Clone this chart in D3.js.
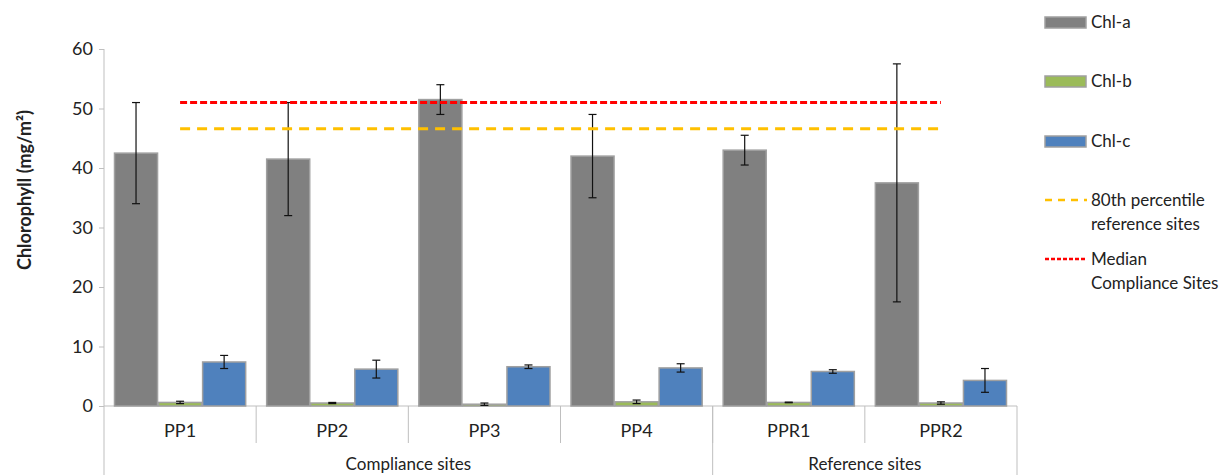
<!DOCTYPE html>
<html><head><meta charset="utf-8">
<script src="https://cdn.jsdelivr.net/npm/d3@7"></script>
<style>body{margin:0;background:#fff}svg{display:block}text{font-family:Lato,"Open Sans",sans-serif;fill:#222}</style>
</head><body><svg id="c" width="1224" height="475"></svg>
<script>
const categories = ["PP1","PP2","PP3","PP4","PPR1","PPR2"];
const groups = [{name:"Compliance sites", from:0, to:3},{name:"Reference sites", from:4, to:5}];
const seriesNames = ["Chl-a","Chl-b","Chl-c"];
const chlA = [42.5, 41.5, 51.5, 42.0, 43.0, 37.5];
const chlAerr = [8.5, 9.5, 2.5, 7.0, 2.5, 20.0];
const chlB = [0.6, 0.5, 0.3, 0.7, 0.6, 0.5];
const chlBerr = [0.2, 0.1, 0.2, 0.3, 0.05, 0.2];
const chlC = [7.4, 6.2, 6.6, 6.4, 5.8, 4.3];
const chlCerr = [1.1, 1.5, 0.3, 0.7, 0.3, 2.0];
const pct80Ref = [46.6,46.6,46.6,46.6,46.6,46.6];
const medianComp = [51.0,51.0,51.0,51.0,51.0,51.0];
const yTicks = [0,10,20,30,40,50,60];
const colors = ["#808080","#9bbb59","#4f81bd"];

const svg = d3.select("#c");
const x0 = d3.scaleBand().domain(categories).range([104,1017]).paddingInner(0).paddingOuter(0);
const x1 = d3.scaleBand().domain(seriesNames).range([0,x0.bandwidth()]).paddingOuter(0.227).paddingInner(0);
const y = d3.scaleLinear().domain([0,60]).range([406,49]);

// y axis
const yAxis = d3.axisLeft(y).tickValues(yTicks).tickSize(5).tickPadding(6);
const ga = svg.append("g").attr("transform","translate(104,0)").call(yAxis);
ga.select(".domain").remove();
ga.selectAll(".tick line").attr("stroke","#bfbfbf");
ga.selectAll(".tick text").style("font-size","18px").attr("fill","#222");
svg.append("line").attr("x1",104).attr("x2",104).attr("y1",49).attr("y2",475).attr("stroke","#bfbfbf");
// category baseline
svg.append("line").attr("x1",104).attr("x2",1017).attr("y1",y(0)).attr("y2",y(0)).attr("stroke","#bfbfbf");

// bars
const data = [chlA, chlB, chlC];
const errs = [chlAerr, chlBerr, chlCerr];
seriesNames.forEach((s,si)=>{
  const g = svg.append("g");
  g.selectAll("rect").data(categories).join("rect")
    .attr("x",c=>x0(c)+x1(s)+0.5)
    .attr("y",(c,i)=>y(data[si][i]))
    .attr("width",x1.bandwidth()-1)
    .attr("height",(c,i)=>y(0)-y(data[si][i]))
    .attr("fill",colors[si]).attr("stroke","#a0a0a0").attr("stroke-width",1.5);
});
seriesNames.forEach((s,si)=>{
  const g = svg.append("g");
  categories.forEach((c,i)=>{
    const cx = x0(c)+x1(s)+x1.bandwidth()/2;
    const v = data[si][i], e = errs[si][i];
    g.append("line").attr("x1",cx).attr("x2",cx).attr("y1",y(v+e)).attr("y2",y(v-e)).attr("stroke","#111").attr("stroke-width",1.2);
    [v+e,v-e].forEach(t=>g.append("line").attr("x1",cx-4).attr("x2",cx+4).attr("y1",y(t)).attr("y2",y(t)).attr("stroke","#111").attr("stroke-width",1.2));
  });
});

// reference lines
const line = d3.line().x((d,i)=>x0(categories[i])+x0.bandwidth()/2).y(d=>y(d));
svg.append("path").datum(pct80Ref).attr("d",line).attr("fill","none").attr("stroke","#ffc000").attr("stroke-width",3).attr("stroke-dasharray","10,7");
svg.append("path").datum(medianComp).attr("d",line).attr("fill","none").attr("stroke","#ff0000").attr("stroke-width",3).attr("stroke-dasharray","7,3");

// category labels & separators
categories.forEach((c,i)=>{
  svg.append("text").attr("x",x0(c)+x0.bandwidth()/2).attr("y",437).attr("text-anchor","middle").style("font-size","18px").text(c);
  if(i>0) svg.append("line").attr("x1",x0(c)).attr("x2",x0(c)).attr("y1",406).attr("y2",443).attr("stroke","#bfbfbf");
});
groups.forEach(g=>{
  const a = x0(categories[g.from]), b = x0(categories[g.to])+x0.bandwidth();
  svg.append("text").attr("x",(a+b)/2).attr("y",470).attr("text-anchor","middle").style("font-size","17px").text(g.name);
  svg.append("line").attr("x1",b).attr("x2",b).attr("y1",406).attr("y2",475).attr("stroke","#bfbfbf");
});

// y label
svg.append("text").attr("transform","translate(31,190) rotate(-90)").attr("text-anchor","middle")
  .style("font-size","18px").style("font-weight","bold")
  .text("Chlorophyll (mg/m²)");

// legend
const lg = svg.append("g");
const lx = 1045, tx = 1091;
const legRows = [
  {type:"bar", color:colors[0], y:22, lines:[seriesNames[0]]},
  {type:"bar", color:colors[1], y:81, lines:[seriesNames[1]]},
  {type:"bar", color:colors[2], y:141, lines:[seriesNames[2]]},
  {type:"dash80", color:"#ffc000", y:200, lines:["80th percentile","reference sites"]},
  {type:"dashMed", color:"#ff0000", y:259, lines:["Median","Compliance Sites"]}
];
legRows.forEach(r=>{
  if(r.type==="bar"){
    lg.append("rect").attr("x",lx).attr("y",r.y-5).attr("width",41).attr("height",11).attr("fill",r.color).attr("stroke","#a0a0a0").attr("stroke-width",1.5);
  } else {
    lg.append("line").attr("x1",lx).attr("x2",lx+42).attr("y1",r.y).attr("y2",r.y).attr("stroke",r.color).attr("stroke-width",2.5)
      .attr("stroke-dasharray", r.type==="dash80" ? "7,6" : "4,2");
  }
  r.lines.forEach((t,k)=>lg.append("text").attr("x",tx).attr("y",r.y+6+k*24).style("font-size","17px").text(t));
});
</script></body></html>
